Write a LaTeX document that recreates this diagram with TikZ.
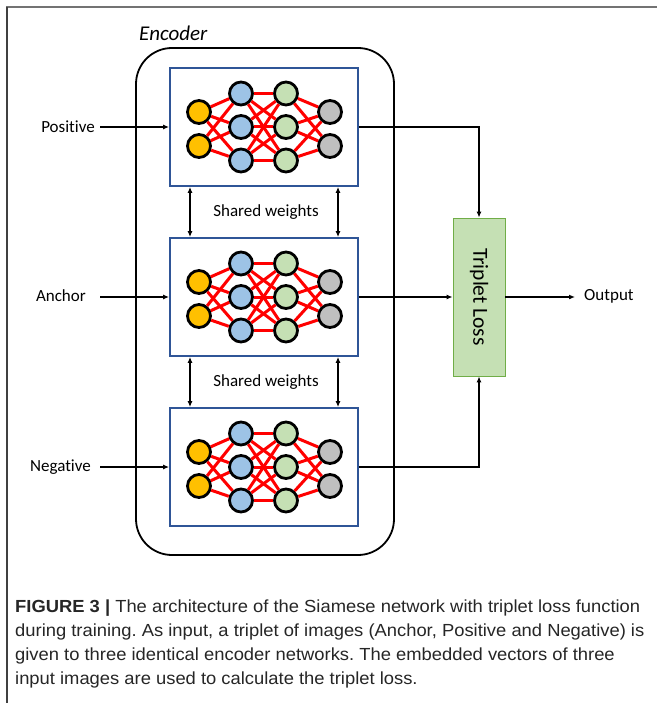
\documentclass[tikz,border=0pt]{standalone}
\usepackage{fontspec}
\setmainfont{Carlito}[Ligatures=NoCommon]
\newfontfamily\capfont[FakeStretch=1.05]{Liberation Sans}
\usetikzlibrary{arrows.meta}
\definecolor{nOrange}{HTML}{FFC000}
\definecolor{nBlue}{HTML}{9DC3E6}
\definecolor{nGreen}{HTML}{C5E0B4}
\definecolor{nGray}{HTML}{BFBFBF}
\definecolor{blockBlue}{HTML}{2F5597}
\definecolor{lossEdge}{HTML}{70AD47}
\definecolor{capText}{HTML}{262626}
\frenchspacing
\begin{document}
\begin{tikzpicture}[x=1pt,y=-1pt,
  neuron/.style={circle,draw=black,line width=2.8pt,minimum size=23pt,inner sep=0pt},
  edge/.style={red,line width=3pt},
  blockbox/.style={draw=blockBlue,line width=1.8pt,minimum width=188pt,minimum height=118pt,inner sep=0pt},
  lbl/.style={font=\fontsize{17}{20}\selectfont,inner sep=0pt},
  conn/.style={line width=1.3pt,-{Latex[length=6pt,width=5pt]}},
  dconn/.style={line width=1.3pt,{Latex[length=6pt,width=5pt]}-{Latex[length=6pt,width=5pt]}},
  net/.pic={
    \node[neuron,fill=nOrange] (-o1) at (-65,-15) {};
    \node[neuron,fill=nOrange] (-o2) at (-65,19) {};
    \node[neuron,fill=nBlue] (-b1) at (-23,-33.5) {};
    \node[neuron,fill=nBlue] (-b2) at (-23,0) {};
    \node[neuron,fill=nBlue] (-b3) at (-23,33.5) {};
    \node[neuron,fill=nGreen] (-g1) at (22,-33.5) {};
    \node[neuron,fill=nGreen] (-g2) at (22,0) {};
    \node[neuron,fill=nGreen] (-g3) at (22,33.5) {};
    \node[neuron,fill=nGray] (-y1) at (66,-15) {};
    \node[neuron,fill=nGray] (-y2) at (66,19) {};
    \foreach \a in {1,2} \foreach \b in {1,2,3} {\draw[edge] (-o\a) -- (-b\b);}
    \foreach \a in {1,2,3} \foreach \b in {1,2,3} {\draw[edge] (-b\a) -- (-g\b);}
    \foreach \a in {1,2,3} \foreach \b in {1,2} {\draw[edge] (-g\a) -- (-y\b);}
  }]
\useasboundingbox (0,0) rectangle (657,703);
\fill[white] (0,0) rectangle (657,703);
% frame
\draw[gray!90!black,line width=2pt] (6,7.5) -- (657,7.5);
\draw[black!75,line width=1.3pt] (7,7) -- (7,703);
% encoder
\draw[line width=1.8pt,rounded corners=36pt] (136,48) rectangle (394,555);
\node[font=\fontsize{21}{24}\selectfont\itshape,anchor=west,inner sep=0pt] (enc) at (139,33) {Encoder};
% blocks
\node[blockbox] (b1) at (264,127) {};
\node[blockbox] (b2) at (264,297) {};
\node[blockbox] (b3) at (264,467) {};
\pic (n1) at (b1.center) {net};
\pic (n2) at (b2.center) {net};
\pic (n3) at (b3.center) {net};
% shared weights
\node[lbl] (sw1) at (266,212) {Shared weights};
\node[lbl] (sw2) at (266,382) {Shared weights};
\draw[dconn] ([xshift=-74pt]b1.south) -- ([xshift=-74pt]b2.north);
\draw[dconn] ([xshift=74pt]b1.south) -- ([xshift=74pt]b2.north);
\draw[dconn] ([xshift=-74pt]b2.south) -- ([xshift=-74pt]b3.north);
\draw[dconn] ([xshift=74pt]b2.south) -- ([xshift=74pt]b3.north);
% inputs
\node[lbl,anchor=east] (pos) at (95,127) {Positive};
\node[lbl,anchor=east] (anc) at (86,296) {Anchor};
\node[lbl,anchor=east] (neg) at (91,467) {Negative};
\coordinate (i1) at (100,127);
\coordinate (i2) at (100,297);
\coordinate (i3) at (100,467);
\draw[conn] (i1) -- (b1.west);
\draw[conn] (i2) -- (b2.west);
\draw[conn] (i3) -- (b3.west);
% triplet loss
\node[draw=lossEdge,fill=nGreen,line width=0.8pt,minimum width=52pt,minimum height=158pt,inner sep=0pt] (tl) at (479,297) {};
\node[rotate=-90,font=\fontsize{21.5}{24}\selectfont,inner sep=0pt] (tlt) at (tl.center) {Triplet Loss};
\draw[conn] (b1.east) -| (tl.north);
\draw[conn] (b2.east) -- (tl.west);
\draw[conn] (b3.east) -| (tl.south);
\coordinate (o) at (575,297);
\draw[conn] (tl.east) -- (o);
\node[lbl,anchor=west] (out) at (584,296) {Output};
% caption
\node[anchor=north west,align=left,inner sep=0pt,text=capText,
  font=\capfont\fontsize{17.5}{24}\selectfont] (cap) at (15,600)
  {\textbf{FIGURE 3 |} The architecture of the Siamese network with triplet loss function\\
   during training. As input, a triplet of images (Anchor, Positive and Negative) is\\
   given to three identical encoder networks. The embedded vectors of three\\
   input images are used to calculate the triplet loss.};
\end{tikzpicture}
\end{document}
